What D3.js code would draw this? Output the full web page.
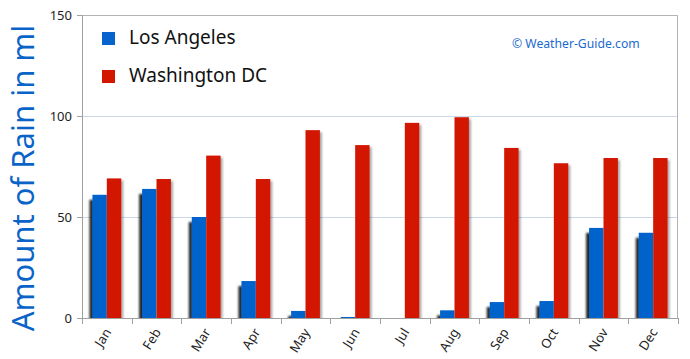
<!DOCTYPE html>
<html>
<head>
<meta charset="utf-8">
<script src="https://cdn.jsdelivr.net/npm/d3@7"></script>
<style>
  body { margin: 0; background: #fff; }
  .hand { font-family: "Comic Sans MS", "Noto Sans", "DejaVu Sans", sans-serif; }
</style>
</head>
<body>
<div id="chart"></div>
<script>
// data
var months = ["Jan", "Feb", "Mar", "Apr", "May", "Jun", "Jul", "Aug", "Sep", "Oct", "Nov", "Dec"]
var losAngeles = [61, 63.9, 50, 18.3, 3.5, 0.5, 0, 3.8, 7.9, 8.4, 44.6, 42.2]
var washington = [69.1, 68.8, 80.4, 68.8, 93, 85.6, 96.6, 99.4, 84.2, 76.6, 79.2, 79.2]
var yTicks = [0, 50, 100, 150]
var seriesNames = ["Los Angeles", "Washington DC"]
var seriesColors = ["#0664cc", "#d21600"]

var config = {
  width: 690,
  height: 359,
  margin: { left: 82, right: 12, top: 15, bottom: 41 }
}
var innerW = config.width - config.margin.left - config.margin.right
var innerH = config.height - config.margin.top - config.margin.bottom

var svg = d3.select("#chart").append("svg")
    .attr("width", config.width)
    .attr("height", config.height)

// shadows
var defs = svg.append("defs")
defs.append("filter").attr("id", "shadowL")
    .attr("x", "-50%").attr("y", "-10%").attr("width", "200%").attr("height", "120%")
  .append("feDropShadow")
    .attr("dx", -3).attr("dy", 5).attr("stdDeviation", 0.8)
    .attr("flood-color", "#000").attr("flood-opacity", 0.85)
defs.append("filter").attr("id", "shadowR")
    .attr("x", "-50%").attr("y", "-10%").attr("width", "200%").attr("height", "120%")
  .append("feDropShadow")
    .attr("dx", 2).attr("dy", 2).attr("stdDeviation", 1)
    .attr("flood-color", "#000").attr("flood-opacity", 0.35)

var g = svg.append("g")
    .attr("transform", "translate(" + config.margin.left + "," + config.margin.top + ")")

var x = d3.scaleBand().domain(months).range([0, innerW]).paddingInner(0.42).paddingOuter(0.21)
var x1 = d3.scaleBand().domain([0, 1]).range([0, x.bandwidth()])
var y = d3.scaleLinear().domain([0, 150]).range([innerH, 0])

// grid lines
g.selectAll(".grid").data([50, 100]).enter().append("line")
    .attr("x1", 0).attr("x2", innerW)
    .attr("y1", function(d){ return y(d) + 0.5 })
    .attr("y2", function(d){ return y(d) + 0.5 })
    .attr("stroke", "#c9d9ea")

// frame: top and right
g.append("path")
    .attr("d", "M0,0.5H" + (innerW - 0.5) + "V" + innerH)
    .attr("fill", "none")
    .attr("stroke", "#b4b4b4")

// bars
var data = months.map(function(m, i){ return [losAngeles[i], washington[i]] })
var groups = g.selectAll(".month").data(data).enter().append("g")
    .attr("transform", function(d, i){ return "translate(" + x(months[i]) + ",0)" })

groups.selectAll("rect").data(function(d){ return d }).enter().append("rect")
    .attr("x", function(d, j){ return x1(j) })
    .attr("y", function(d){ return y(d) })
    .attr("width", x1.bandwidth())
    .attr("height", function(d){ return innerH - y(d) })
    .attr("fill", function(d, j){ return seriesColors[j] })
    .attr("filter", function(d, j){ return d > 0 ? (j === 0 ? "url(#shadowL)" : "url(#shadowR)") : null })

// cover shadow spill below baseline
g.append("rect")
    .attr("x", -10).attr("y", innerH + 0.5)
    .attr("width", innerW + 20).attr("height", 10)
    .attr("fill", "#fff")

// y axis
var yAxis = g.append("g").call(d3.axisLeft(y).tickValues(yTicks).tickSize(5).tickPadding(5))
yAxis.select(".domain").attr("stroke", "#a0a0a0").attr("d", "M-5,0.5H0.5V" + (innerH + 0.5) + "H-5")
yAxis.selectAll(".tick line").attr("stroke", "#a0a0a0")
yAxis.selectAll(".tick text")
    .attr("class", "hand")
    .attr("fill", "#222")
    .style("font-size", "13px")

// x axis
var xAxis = g.append("g")
    .attr("transform", "translate(0," + innerH + ")")
    .call(d3.axisBottom(x).tickSize(0).tickFormat(""))
xAxis.select(".domain").attr("stroke", "#a0a0a0").attr("d", "M0,0.5H" + innerW)
xAxis.selectAll(".tick").remove()
var step = innerW / months.length
xAxis.selectAll(".sep").data(d3.range(months.length + 1)).enter().append("line")
    .attr("x1", function(i){ return Math.round(i * step) + 0.5 })
    .attr("x2", function(i){ return Math.round(i * step) + 0.5 })
    .attr("y1", 0).attr("y2", 6)
    .attr("stroke", "#a0a0a0")
xAxis.selectAll(".mlabel").data(months).enter().append("text")
    .attr("class", "hand")
    .attr("text-anchor", "end")
    .attr("fill", "#222")
    .style("font-size", "13px")
    .attr("transform", function(m){
      return "translate(" + (x(m) + x.bandwidth() / 2 + 5) + ",14) rotate(-58)"
    })
    .text(function(m){ return m })

// axis title
svg.append("text")
    .attr("class", "hand")
    .attr("text-anchor", "middle")
    .attr("fill", "#0a64c8")
    .style("font-size", "31px")
    .attr("transform", "translate(34,178) rotate(-90)")
    .text("Amount of Rain in ml")

// legend
var legend = svg.selectAll(".legend").data(seriesNames).enter().append("g")
    .attr("transform", function(d, i){ return "translate(102," + (32 + i * 38) + ")" })
legend.append("rect")
    .attr("width", 13).attr("height", 13)
    .attr("fill", function(d, i){ return seriesColors[i] })
legend.append("text")
    .attr("class", "hand")
    .attr("x", 27).attr("y", 12)
    .attr("fill", "#111")
    .style("font-size", "19px")
    .text(function(d){ return d })

// copyright
svg.append("text")
    .attr("class", "hand")
    .attr("x", 512).attr("y", 48)
    .attr("fill", "#1a6ad0")
    .style("font-size", "12.2px")
    .text("\u00a9 Weather-Guide.com")
</script>
</body>
</html>
